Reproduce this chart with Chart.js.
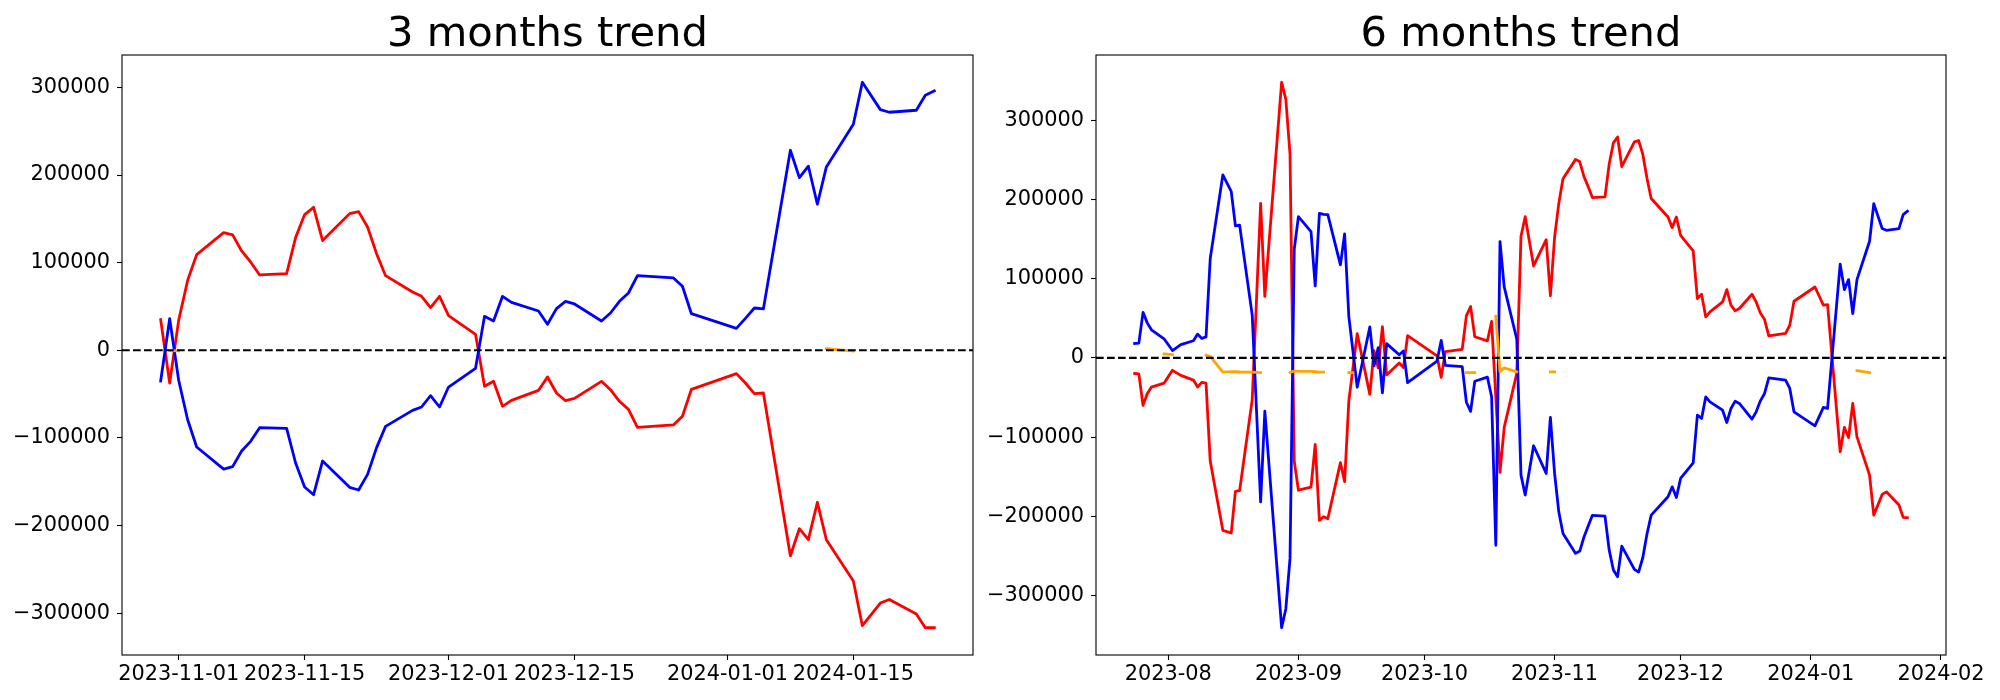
<!DOCTYPE html>
<html><head><meta charset="utf-8">
<script src="https://cdn.jsdelivr.net/npm/chart.js"></script>
<style>
html,body{margin:0;padding:0;background:#fff;}
#wrap{position:relative;width:2000px;height:700px;background:#fff;}
canvas{position:absolute;top:0;}
</style></head><body>
<div id="wrap">
<canvas id="c3" width="1000" height="700" style="left:0px"></canvas>
<canvas id="c6" width="1100" height="700" style="left:900px"></canvas>
</div>
<script>
// ---------- 3 months ----------
const dates3 = [
'2023-10-30','2023-10-31','2023-11-01','2023-11-02','2023-11-03',
'2023-11-06','2023-11-07','2023-11-08','2023-11-09','2023-11-10',
'2023-11-13','2023-11-14','2023-11-15','2023-11-16','2023-11-17',
'2023-11-20','2023-11-21','2023-11-22','2023-11-23','2023-11-24',
'2023-11-27','2023-11-28','2023-11-29','2023-11-30','2023-12-01',
'2023-12-04','2023-12-05','2023-12-06','2023-12-07','2023-12-08',
'2023-12-11','2023-12-12','2023-12-13','2023-12-14','2023-12-15',
'2023-12-18','2023-12-19','2023-12-20','2023-12-21','2023-12-22',
'2023-12-26','2023-12-27','2023-12-28',
'2024-01-02','2024-01-03','2024-01-04','2024-01-05',
'2024-01-08','2024-01-09','2024-01-10','2024-01-11','2024-01-12',
'2024-01-15','2024-01-16',
'2024-01-18','2024-01-19',
'2024-01-22','2024-01-23','2024-01-24'];
const red3 = [
35000,-37300,34200,79900,109200,
134300,131700,113400,100800,86000,
87500,128600,154900,163200,125200,
156000,158300,140800,110300,85200,
66600,61600,48700,61600,39600,
18300,-41100,-35400,-63900,-57100,
-45700,-30400,-48700,-57500,-54800,
-35400,-44900,-58200,-67400,-87900,
-85200,-75300,-44500,
-26600,-37300,-49500,-48700,
-234400,-203600,-216100,-173500,-216100,
-263300,-314300,
-288400,-284300,
-301000,-316600,-316600];
const blue3 = [
-35000,36100,-34200,-79200,-110300,
-135500,-132800,-114900,-103900,-88300,
-89000,-128600,-156000,-164800,-126300,
-156400,-159400,-141600,-111100,-86800,
-68500,-64700,-51700,-64700,-41900,
-20500,38800,33500,61600,54800,
44900,29700,47600,55900,52900,
33500,42600,55900,65400,85200,
82600,73100,41800,
25100,36500,48300,47200,
228300,197100,210100,166700,209300,
258000,305900,
274700,271700,
274000,291100,296000];
const orange3 = [
null,-400,-600,null,null,
null,null,null,null,null,
null,null,null,null,null,
null,null,null,null,null,
null,null,null,null,null,
null,null,null,null,null,
null,null,null,null,null,
null,null,null,null,null,
null,null,null,
null,null,null,null,
null,null,null,null,1800,
-800,null,
null,null,
null,null,null];
const xTicks3 = ['2023-11-01','2023-11-15','2023-12-01','2023-12-15','2024-01-01','2024-01-15'];

// ---------- 6 months ----------
const dates6 = [
'2023-07-24','2023-07-25','2023-07-26','2023-07-27','2023-07-28',
'2023-07-31','2023-08-02','2023-08-04',
'2023-08-07','2023-08-08','2023-08-09','2023-08-10','2023-08-11',
'2023-08-14','2023-08-16','2023-08-17','2023-08-18',
'2023-08-21','2023-08-23','2023-08-24',
'2023-08-28','2023-08-29','2023-08-30','2023-08-31','2023-09-01',
'2023-09-04','2023-09-05','2023-09-06','2023-09-07','2023-09-08',
'2023-09-11','2023-09-12','2023-09-13','2023-09-14','2023-09-15',
'2023-09-18','2023-09-19','2023-09-20','2023-09-21','2023-09-22',
'2023-09-25','2023-09-26','2023-09-27',
'2023-10-04','2023-10-05','2023-10-06',
'2023-10-10','2023-10-11','2023-10-12','2023-10-13',
'2023-10-16','2023-10-17','2023-10-18','2023-10-19','2023-10-20',
'2023-10-23','2023-10-24','2023-10-25','2023-10-27',
'2023-10-30','2023-10-31','2023-11-01','2023-11-02','2023-11-03',
'2023-11-06','2023-11-07','2023-11-08','2023-11-09','2023-11-10',
'2023-11-13','2023-11-14','2023-11-15','2023-11-16','2023-11-17',
'2023-11-20','2023-11-21','2023-11-22','2023-11-23','2023-11-24',
'2023-11-28','2023-11-29','2023-11-30','2023-12-01',
'2023-12-04','2023-12-05','2023-12-06','2023-12-07','2023-12-08',
'2023-12-11','2023-12-12','2023-12-13','2023-12-14','2023-12-15',
'2023-12-18','2023-12-19','2023-12-20','2023-12-21','2023-12-22',
'2023-12-26','2023-12-27','2023-12-28',
'2024-01-02','2024-01-04','2024-01-05',
'2024-01-08','2024-01-09','2024-01-10','2024-01-11','2024-01-12',
'2024-01-15','2024-01-16','2024-01-18','2024-01-19',
'2024-01-22','2024-01-23','2024-01-24'];
const red6 = [
-19600,-20100,-59900,-45200,-36800,
-31900,-15700,-22100,
-28000,-36800,-30900,-31900,-130200,
-217600,-221000,-168500,-167500,
-52600,195000,77600,
347800,326600,257000,-130000,-167000,
-163200,-109300,-205000,-200500,-203000,
-132200,-156200,-54500,null,30500,
-46000,9000,-12500,39500,-21500,
-6400,-12300,28000,
2500,-24600,8000,
10700,53300,64800,26700,
21500,46000,null,-144500,-87700,
-19600,153400,178200,116000,
149200,78400,152400,195000,226100,
250500,247500,228700,216100,202300,
203200,244600,271300,278800,241500,
272500,274300,257100,226700,201200,
177800,164400,177800,154700,
134900,74900,80300,51700,58000,
70600,86200,66500,59300,62300,
80300,70600,56700,48400,27700,
30800,41200,71500,
89500,66500,67300,
-118500,-87800,-100400,-57500,-99600,
-147900,-198400,-172300,-169000,
-185700,-201300,-201700];
const blue6 = [
18200,18700,57500,44200,35400,
24100,9300,16700,
21600,30000,24600,26500,125300,
230900,210200,166500,167500,
54000,-181700,-67300,
-340500,-316800,-253000,137000,178200,
159400,90800,182300,181000,180700,
117400,156500,52500,null,-37000,
39000,-10000,13000,-44100,18000,
4000,8800,-31300,
-4000,22000,-9500,
-11000,-56000,-67500,-29500,
-24300,-49100,-236500,146800,89600,
23500,-147900,-173100,-110900,
-145800,-75200,-145800,-194200,-221500,
-246700,-243800,-225900,-212200,-198600,
-199600,-242500,-267700,-276100,-237500,
-266800,-270300,-252200,-222300,-198400,
-175300,-162700,-176100,-152100,
-132400,-72300,-76400,-49200,-55400,
-66000,-81500,-63800,-54600,-57500,
-77300,-68100,-54200,-44900,-25200,
-28100,-38600,-68100,
-85700,-62500,-63800,
118200,86200,98800,56000,98800,
147200,194700,163200,161000,
163200,180800,185000];
const orange6 = [
null,null,null,null,null,
5000,4000,null,
null,null,null,3400,1900,
-18000,-17300,-17500,-17800,
-18000,-18500,null,
null,null,-18500,-16500,-17000,
-17000,-17500,-18000,-18000,null,
null,null,-18500,-18500,null,
null,null,null,null,null,
null,null,null,
null,null,null,
null,-18500,-18500,-18500,
null,null,52600,-17600,-12600,
-17600,null,null,null,
null,-17600,-17600,null,null,
null,null,null,null,null,
null,null,null,null,null,
null,null,null,null,null,
null,null,null,null,
null,null,null,null,null,
null,null,null,null,null,
null,null,null,null,null,
null,null,null,
null,null,null,
null,null,null,null,-16000,
-18500,null,null,null,
null,null,null];
const xTicks6 = ['2023-08','2023-09','2023-10','2023-11','2023-12','2024-01','2024-02'];

const yTicks = [-300000,-200000,-100000,0,100000,200000,300000];
const titles = ['3 months trend','6 months trend'];

// ---------- helpers ----------
const FONT = 'DejaVu Sans';
function dayNum(s){ const p = s.split('-').map(Number); return Date.UTC(p[0], p[1]-1, p[2] || 1) / 864e5; }
function padRange(lo, hi){ const m = (hi - lo) * 0.05; return [lo - m, hi + m]; }
function fmtNum(v){ return (v < 0 ? '\u2212' : '') + Math.abs(v); }

const framePlugin = {
  id: 'frame',
  afterDatasetsDraw(chart){
    const {ctx, chartArea: a, scales: {y}} = chart;
    const y0 = y.getPixelForValue(0);
    ctx.save();
    ctx.beginPath(); ctx.rect(a.left, a.top, a.right - a.left, a.bottom - a.top); ctx.clip();
    ctx.strokeStyle = '#000'; ctx.lineWidth = 2.08; ctx.setLineDash([7.7, 3.3]);
    ctx.beginPath(); ctx.moveTo(a.left, y0); ctx.lineTo(a.right, y0); ctx.stroke();
    ctx.restore();
  },
  afterDraw(chart){
    const {ctx, chartArea: a} = chart;
    ctx.save(); ctx.strokeStyle = '#000'; ctx.lineWidth = 1.1;
    ctx.strokeRect(a.left, a.top, a.right - a.left, a.bottom - a.top);
    ctx.restore();
  }
};

function makeChart(id, title, dates, red, blue, orange, xTicks, axisW, padRight){
  const xs = dates.map(dayNum);
  const [xmin, xmax] = padRange(xs[0], xs[xs.length - 1]);
  const all = red.concat(blue, orange).filter(v => v !== null);
  const [ymin, ymax] = padRange(Math.min(...all), Math.max(...all));
  const pts = arr => arr.map((v, i) => ({x: xs[i], y: v}));
  const line = (data, color, order, span) => ({
    data: pts(data), borderColor: color, backgroundColor: color, borderWidth: 2.8,
    pointRadius: 0, tension: 0, spanGaps: span, order: order,
    borderJoinStyle: 'round', borderCapStyle: 'square', fill: false
  });
  const tickFont = {family: FONT, size: 20.83};
  return new Chart(document.getElementById(id), {
    type: 'line',
    data: { datasets: [
      line(red, '#ff0000', 3, true),
      line(blue, '#0000ff', 2, true),
      line(orange, '#ffa500', 1, false)
    ]},
    options: {
      responsive: false, animation: false, devicePixelRatio: 1,
      layout: { padding: {left: 0, right: padRight, top: 0, bottom: 0} },
      plugins: {
        legend: {display: false}, tooltip: {enabled: false},
        title: { display: true, text: title, color: '#000', fullSize: false,
          font: {family: FONT, size: 41.67, weight: 'normal', lineHeight: 0.8},
          padding: {top: 18.3, bottom: 3.37} }
      },
      scales: {
        x: {
          type: 'linear', min: xmin, max: xmax,
          afterBuildTicks: s => { s.ticks = xTicks.map(t => ({value: dayNum(t)})); },
          afterFit: s => { s.height = 45; },
          ticks: { callback: (v, i) => xTicks[i], autoSkip: false, maxRotation: 0, minRotation: 0,
                   font: tickFont, color: '#000', padding: 2 },
          grid: { display: true, drawOnChartArea: false, drawTicks: true, tickLength: 5, tickWidth: 1.1, tickColor: '#000' },
          border: { display: false }
        },
        y: {
          type: 'linear', min: ymin, max: ymax,
          afterBuildTicks: s => { s.ticks = yTicks.map(v => ({value: v})); },
          afterFit: s => { s.width = axisW; },
          ticks: { callback: v => fmtNum(v), font: tickFont, color: '#000', padding: 7 },
          grid: { display: true, drawOnChartArea: false, drawTicks: true, tickLength: 5, tickWidth: 1.1, tickColor: '#000' },
          border: { display: false }
        }
      }
    },
    plugins: [framePlugin]
  });
}

makeChart('c3', titles[0], dates3, red3, blue3, orange3, xTicks3, 122, 27);
makeChart('c6', titles[1], dates6, red6, blue6, orange6, xTicks6, 196, 54);
</script>
</body></html>
